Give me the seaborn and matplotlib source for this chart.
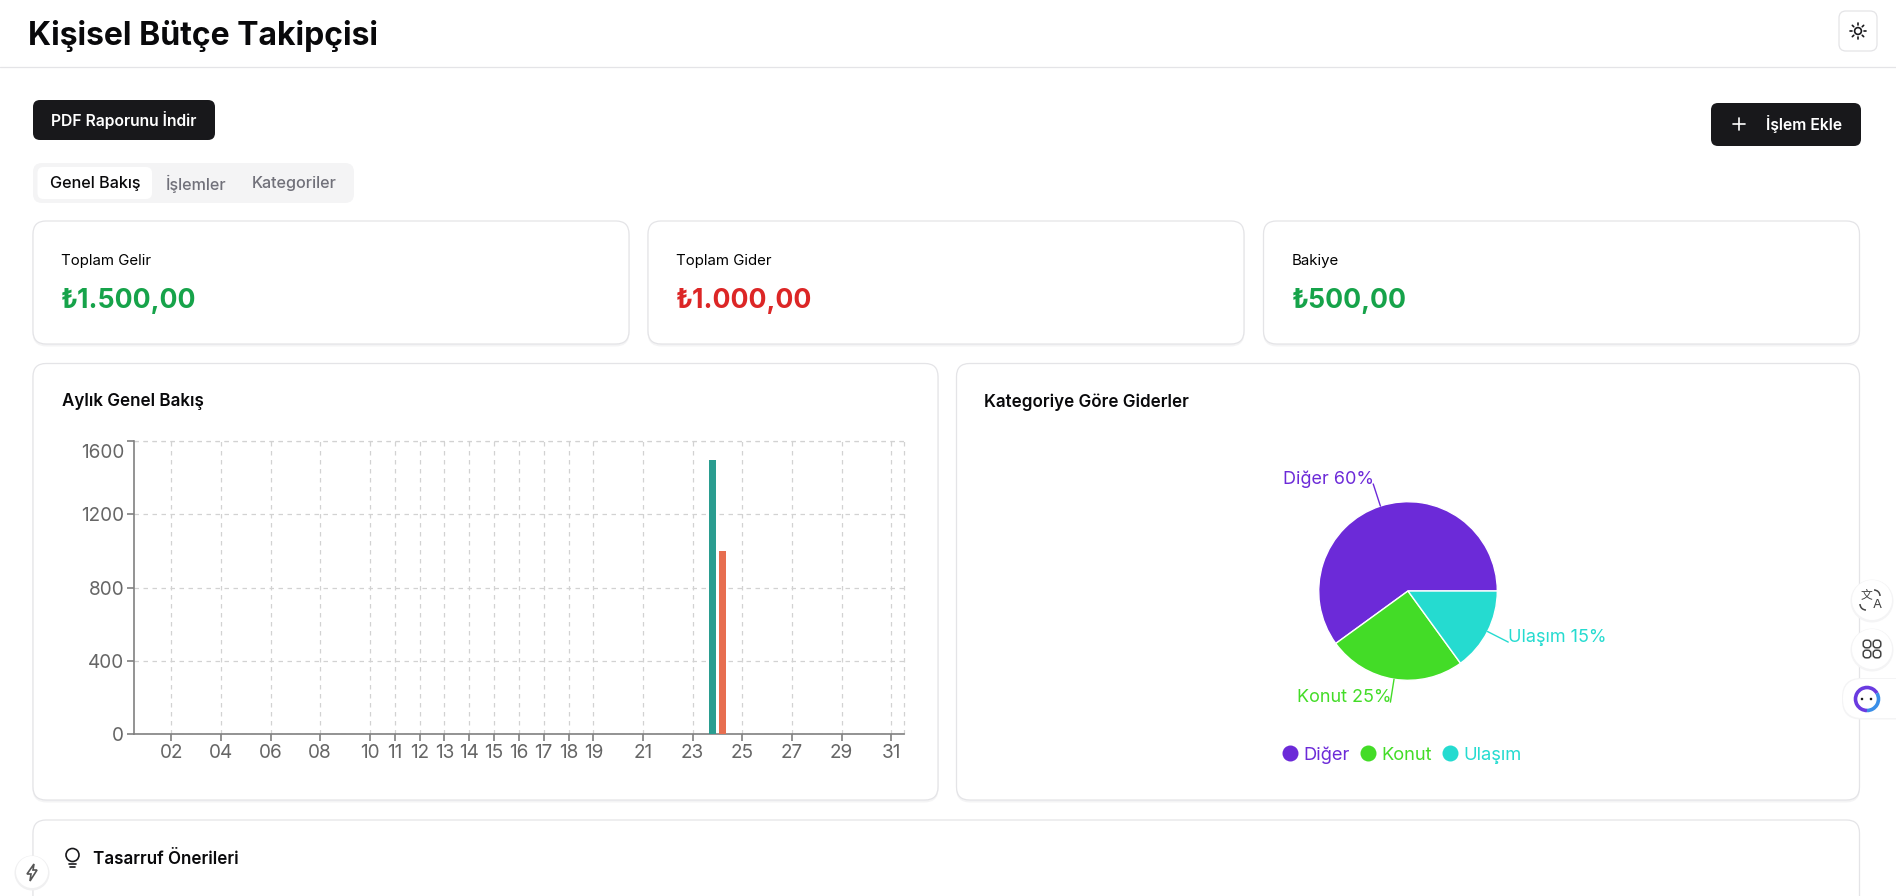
import matplotlib
matplotlib.use('Agg')
import matplotlib.pyplot as plt
from matplotlib.lines import Line2D
from matplotlib.patches import Arc, Circle, FancyBboxPatch, Polygon
from matplotlib.transforms import ScaledTranslation
import numpy as np
import pandas as pd
import seaborn as sns

# Chart values
days = ['01', '02', '03', '04', '05', '06', '07', '08', '09', '10', '11',
        '12', '13', '14', '15', '16', '17', '18', '19', '20', '21', '22',
        '23', '24', '25', '26', '27', '28', '29', '30', '31']
income = [0, 0, 0, 0, 0, 0, 0, 0, 0, 0, 0, 0, 0, 0, 0, 0,
          0, 0, 0, 0, 0, 0, 0, 1500, 0, 0, 0, 0, 0, 0, 0]
expense = [0, 0, 0, 0, 0, 0, 0, 0, 0, 0, 0, 0, 0, 0, 0, 0,
           0, 0, 0, 0, 0, 0, 0, 1000, 0, 0, 0, 0, 0, 0, 0]
shown_days = ['02', '04', '06', '08', '10', '11', '12', '13', '14', '15', '16',
              '17', '18', '19', '21', '23', '25', '27', '29', '31']
y_ticks = [0, 400, 800, 1200, 1600]

categories = ['Diğer', 'Konut', 'Ulaşım']
shares = [60, 25, 15]
pie_colors = ['#6c2ad8', '#43dc27', '#25dbd0']

card_labels = ['Toplam Gelir', 'Toplam Gider', 'Bakiye']
card_values = ['₺1.500,00', '₺1.000,00', '₺500,00']
card_colors = ['#16a34a', '#dc2626', '#16a34a']

W, H = 1896, 896
FONT = ['Inter', 'DejaVu Sans']
px = 72 / 100  # css pixels to points at dpi 100

sns.set_theme(style='white')
plt.rcParams['font.family'] = FONT

fig = plt.figure(figsize=(W / 100, H / 100), dpi=100, facecolor='white')

# page layer, in pixels from the top left
page = fig.add_axes([0, 0, 1, 1], zorder=0)
page.set_xlim(0, W)
page.set_ylim(H, 0)
page.axis('off')

# floating widgets go on their own layer above the charts
over = fig.add_axes([0, 0, 1, 1], zorder=5)
over.set_xlim(0, W)
over.set_ylim(H, 0)
over.axis('off')
over.patch.set_alpha(0)


def box(ax, x0, y0, x1, y1, r, fc, ec='none', lw=1.0, z=2):
    p = FancyBboxPatch((x0 + r, y0 + r), x1 - x0 - 2 * r, y1 - y0 - 2 * r,
                       boxstyle=f'round,pad={r},rounding_size={r}',
                       fc=fc, ec=ec, lw=lw, zorder=z)
    ax.add_patch(p)


def card(x0, y0, x1, y1):
    # soft shadow under the border
    box(page, x0 - 0.5, y0 + 1, x1 + 0.5, y1 + 2.5, 14, '#f4f4f5', z=1)
    box(page, x0, y0, x1, y1, 13, 'white', '#e4e4e7', 0.9)


def label(ax, x, y, s, size, color='black', weight='normal', ha='left'):
    ax.text(x, y, s, fontsize=size * px, color=color, fontweight=weight,
            ha=ha, va='center_baseline', zorder=6)


# header
page.plot([0, W], [67.5, 67.5], color='#e4e4e7', lw=0.9)
label(page, 28, 32, 'Kişisel Bütçe Takipçisi', 32, '#09090b', 'bold')
box(page, 1839, 11, 1877, 51, 7, 'white', '#e4e4e7', 0.9)
page.add_patch(Circle((1858, 31), 3.4, fc='none', ec='#18181b', lw=1.2, zorder=4))
for a in np.arange(0, 360, 45):
    c, s = np.cos(np.radians(a)), np.sin(np.radians(a))
    page.plot([1858 + 6 * c, 1858 + 8 * c], [31 + 6 * s, 31 + 8 * s],
              color='#18181b', lw=1.2, zorder=4)

# buttons and tabs
box(page, 33, 100, 215, 140, 7, '#18181b')
label(page, 124, 118.5, 'PDF Raporunu İndir', 15.7, 'white', 600, 'center')
box(page, 1711, 103, 1861, 146, 7, '#18181b')
page.plot([1733, 1745], [124, 124], color='white', lw=1.2, zorder=4)
page.plot([1739, 1739], [118, 130], color='white', lw=1.2, zorder=4)
label(page, 1766, 122.5, 'İşlem Ekle', 15.7, 'white', 600)
box(page, 33, 163, 354, 203, 9, '#f4f4f5')
box(page, 37.5, 167, 152, 199, 6, 'white')
label(page, 95, 182, 'Genel Bakış', 16.2, '#09090b', 500, 'center')
label(page, 196, 182, 'İşlemler', 16.2, '#71717a', 500, 'center')
label(page, 294, 182, 'Kategoriler', 16.2, '#71717a', 500, 'center')

# summary cards
for x0, name, value, col in zip([33, 648, 1263.5], card_labels, card_values, card_colors):
    card(x0, 221, x0 + 596, 344)
    label(page, x0 + 28.5, 259.5, name, 15)
    label(page, x0 + 28, 298, value, 26.6, col, 'bold')

# chart cards
card(33, 363.5, 938, 800)
card(956.5, 363.5, 1859.5, 800)
card(33, 820, 1859.5, 930)
label(page, 62, 400, 'Aylık Genel Bakış', 17, '#09090b', 600)
label(page, 984, 400, 'Kategoriye Göre Giderler', 17, '#09090b', 600)
label(page, 93, 857, 'Tasarruf Önerileri', 17, '#09090b', 600)

# bulb icon
page.add_patch(Circle((72.5, 855), 6.5, fc='none', ec='#18181b', lw=1.2, zorder=4))
page.plot([69, 76], [864, 864], color='#18181b', lw=1.2, zorder=4)
page.plot([70, 75], [867.5, 867.5], color='#18181b', lw=1.2, zorder=4)

# bar chart
bar_ax = fig.add_axes([134 / W, 1 - 734 / H, (903.7 - 134) / W, (734 - 441.3) / H],
                      zorder=2)
bar_ax.patch.set_alpha(0)
df = pd.DataFrame({'day': days * 2,
                   'amount': income + expense,
                   'type': ['Gelir'] * len(days) + ['Gider'] * len(days)})
sns.barplot(data=df, x='day', y='amount', hue='type', order=days,
            palette=['#2a9d90', '#e76e50'], saturation=1, width=0.76, gap=0.22,
            linewidth=0, legend=False, ax=bar_ax, zorder=3)
bar_ax.set_xlim(-0.5, 30.5)
bar_ax.set_ylim(0, 1600)
bar_ax.set_xlabel('')
bar_ax.set_ylabel('')
bar_ax.set_xticks([days.index(d) for d in shown_days], shown_days)
bar_ax.set_yticks(y_ticks, [str(v) for v in y_ticks])
grid_style = dict(color='#d2d2d2', linestyle=(0, (3.6, 3.6)), linewidth=0.9)
bar_ax.grid(True, **grid_style)
bar_ax.set_axisbelow(True)
bar_ax.axvline(30.5, clip_on=False, **grid_style)
bar_ax.axhline(1600, clip_on=False, **grid_style)
sns.despine(ax=bar_ax)
for side in ['left', 'bottom']:
    bar_ax.spines[side].set_color('#808080')
    bar_ax.spines[side].set_linewidth(1.2)
bar_ax.tick_params(axis='both', length=7 * px, width=1.2, color='#808080',
                   labelcolor='#666666', labelsize=19 * px, pad=2,
                   bottom=True, left=True)
# the top label is pushed down to stay in view
top_label = bar_ax.get_yticklabels()[-1]
top_label.set_verticalalignment('top')
top_label.set_transform(top_label.get_transform()
                        + ScaledTranslation(0, -2.5 / 100, fig.dpi_scale_trans))

# pie chart, axes in pixel units around the pie centre
cx, cy, R = 1408, 591, 89.3
half = 200
pie_ax = fig.add_axes([(cx - half) / W, 1 - (cy + half) / H, 2 * half / W, 2 * half / H],
                      zorder=2)
pie_ax.patch.set_alpha(0)
wedges, _ = pie_ax.pie(shares, colors=pie_colors, radius=R, startangle=0,
                       center=(0, 0), frame=False,
                       wedgeprops={'edgecolor': 'white', 'linewidth': 1.0})
pie_ax.set_xlim(-half, half)
pie_ax.set_ylim(-half, half)
pie_ax.axis('off')
for w, name, share, col in zip(wedges, categories, shares, pie_colors):
    mid = np.radians((w.theta1 + w.theta2) / 2)
    c, s = np.cos(mid), np.sin(mid)
    x_end, y_end = 1.26 * R * c, 1.26 * R * s
    pie_ax.plot([R * c, x_end], [R * s, y_end], color=col, lw=1.0, clip_on=False)
    pie_ax.text(x_end + (0 if c > 0 else 1), y_end + 6.5, f'{name} {share}%', color=col,
                fontsize=18 * px, ha='left' if c > 0 else 'right',
                va='center_baseline')

handles = [Line2D([], [], linestyle='none', marker='o', markersize=16 * px,
                  color=c, markeredgewidth=0) for c in pie_colors]
pie_ax.legend(handles, categories, ncol=3, frameon=False, labelcolor=pie_colors,
              fontsize=18.3 * px, loc='center', handlelength=1.0, handletextpad=0.22,
              columnspacing=0.5, bbox_to_anchor=(1401 / W, 1 - 755 / H),
              bbox_transform=fig.transFigure)

# floating widgets
for y in [600, 649]:
    over.add_patch(Circle((1872, y + 1), 21.5, fc='#f4f4f5', ec='none', zorder=1))
    over.add_patch(Circle((1872, y), 20, fc='white', ec='none', zorder=2))
over.text(1866.5, 595, '文', family=['Noto Sans CJK SC', 'DejaVu Sans'], fontsize=8.5,
          color='#444444', ha='center', va='center', zorder=3)
over.text(1877, 604.5, 'A', fontsize=9.5, color='#444444', ha='center', va='center', zorder=3)
over.add_patch(Arc((1874, 596), 12, 12, theta1=270, theta2=360, color='#444444', lw=1.1, zorder=3))
over.add_patch(Arc((1866, 604), 12, 12, theta1=90, theta2=180, color='#444444', lw=1.1, zorder=3))
for dx in [-5, 5]:
    for dy in [-5, 5]:
        box(over, 1872 + dx - 3.8, 649 + dy - 3.8, 1872 + dx + 3.8, 649 + dy + 3.8, 3,
            'none', '#444444', 1.1, 3)
box(over, 1842, 678, 1920, 719.5, 19, '#f4f4f5', z=1)
box(over, 1843, 679, 1920, 718, 19, 'white', z=2)
over.add_patch(Arc((1867, 699), 23, 23, theta1=90, theta2=330, color='#6a3be0', lw=2.6, zorder=3))
over.add_patch(Arc((1867, 699), 23, 23, theta1=330, theta2=90, color='#3a8fe8', lw=2.6, zorder=3))
over.add_patch(Circle((1862, 699), 2, fc='#18181b', zorder=4))
over.add_patch(Circle((1871, 699), 2, fc='#18181b', zorder=4))
over.add_patch(Circle((32, 873), 17.5, fc='#f0f0f1', ec='none', zorder=1))
over.add_patch(Circle((32, 872), 16, fc='white', ec='none', zorder=2))
over.add_patch(Polygon([(34, 864), (27, 874), (31, 874), (30, 881), (37, 870), (33, 870)],
                       closed=True, fc='none', ec='#555555', lw=1.2, zorder=3))

fig.savefig('out.png', dpi=100, facecolor='white')
